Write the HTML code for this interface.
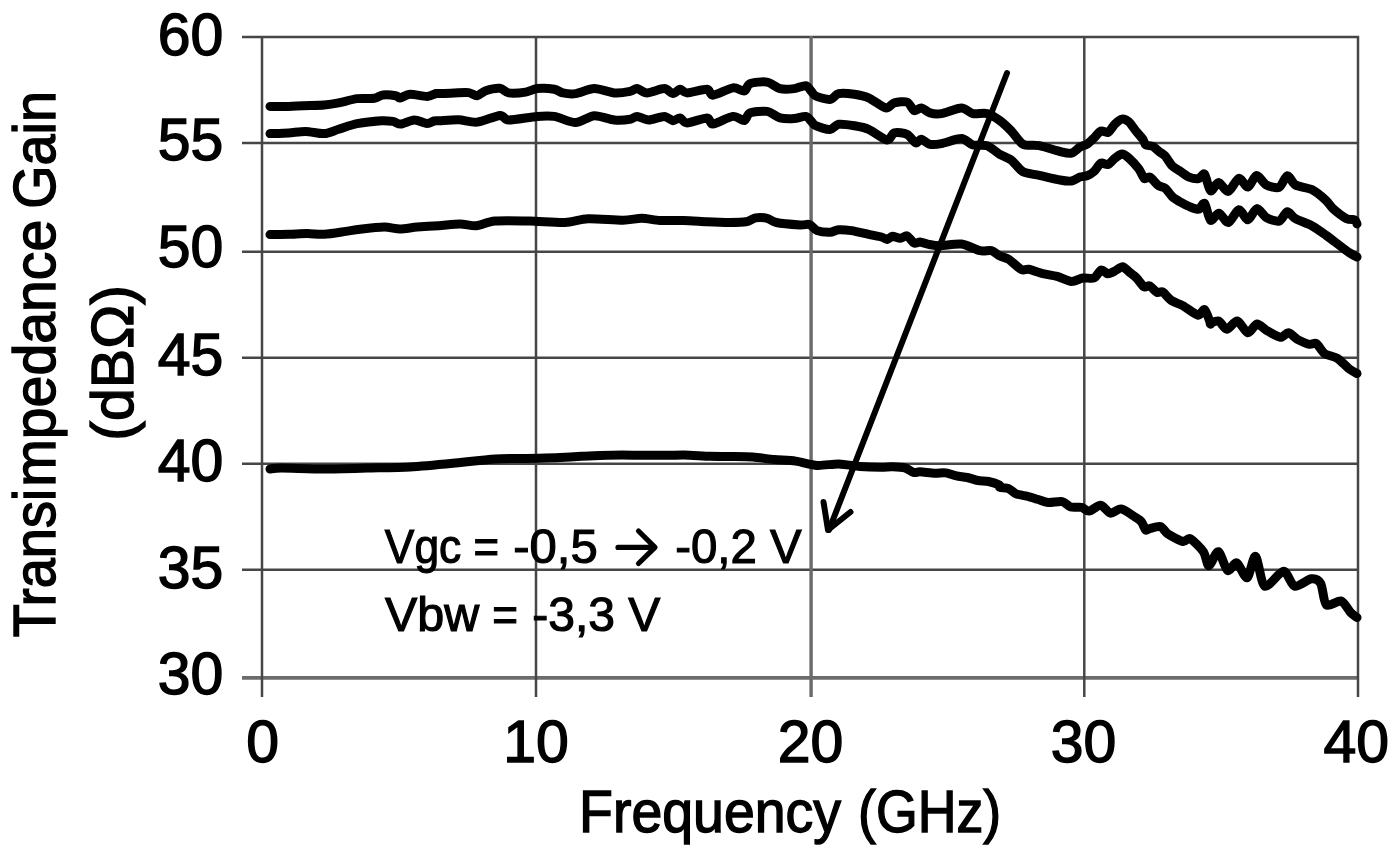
<!DOCTYPE html>
<html><head><meta charset="utf-8"><style>
html,body{margin:0;padding:0;background:#fff;width:1400px;height:859px;overflow:hidden}
svg{display:block;will-change:transform}
text{font-family:"Liberation Sans",sans-serif;fill:#000;stroke:#000}
</style></head><body>
<svg width="1400" height="859" viewBox="0 0 1400 859">
<rect width="1400" height="859" fill="#fff"/>
<g>
<g stroke="#464646" stroke-width="2.5" fill="none">
<line x1="242" y1="36.9" x2="1359" y2="36.9"/><line x1="242" y1="142.9" x2="1359" y2="142.9"/><line x1="242" y1="251.7" x2="1359" y2="251.7"/><line x1="242" y1="357.7" x2="1359" y2="357.7"/><line x1="242" y1="463.8" x2="1359" y2="463.8"/><line x1="242" y1="569.8" x2="1359" y2="569.8"/><line x1="242" y1="677.9" x2="1359" y2="677.9" stroke="#6c6c6c" stroke-width="3.8"/><line x1="262" y1="35.9" x2="262" y2="697"/><line x1="536" y1="35.9" x2="536" y2="697"/><line x1="811.1" y1="35.9" x2="811.1" y2="697" stroke="#6a6a6a" stroke-width="3.4"/><line x1="1084.3" y1="35.9" x2="1084.3" y2="697"/><line x1="1358" y1="35.9" x2="1358" y2="697"/>
</g>
<g>
<text id="y60" transform="translate(157.64,54.92) scale(1.0030,1)" font-size="58.77" stroke-width="1.41">60</text><text id="y55" transform="translate(157.64,160.04) scale(1.0030,1)" font-size="58.77" stroke-width="1.41">55</text><text id="y50" transform="translate(157.64,266.62) scale(1.0030,1)" font-size="58.77" stroke-width="1.41">50</text><text id="y45" transform="translate(157.64,375.22) scale(1.0030,1)" font-size="58.77" stroke-width="1.41">45</text><text id="y40" transform="translate(157.64,480.52) scale(1.0030,1)" font-size="58.77" stroke-width="1.41">40</text><text id="y35" transform="translate(157.64,588.22) scale(1.0030,1)" font-size="58.77" stroke-width="1.41">35</text><text id="y30" transform="translate(157.64,693.52) scale(1.0030,1)" font-size="58.77" stroke-width="1.41">30</text>
<text id="x0" transform="translate(246.30,762.22) scale(1.0030,1)" font-size="58.77" stroke-width="1.41">0</text><text id="x10" transform="translate(503.30,762.22) scale(1.0030,1)" font-size="58.77" stroke-width="1.41">10</text><text id="x20" transform="translate(777.69,762.22) scale(1.0030,1)" font-size="58.77" stroke-width="1.41">20</text><text id="x30" transform="translate(1050.79,762.22) scale(1.0030,1)" font-size="58.77" stroke-width="1.41">30</text><text id="x40" transform="translate(1323.38,762.22) scale(1.0030,1)" font-size="58.77" stroke-width="1.41">40</text>
<text id="xt1" transform="translate(579.12,832.40) scale(0.9469,1)" font-size="58.57" stroke-width="1.41">Frequency</text><text id="xt2" transform="translate(858.02,832.40) scale(0.9168,1)" font-size="58.57" stroke-width="1.41">(GHz)</text>
<text id="yt1a" transform="translate(55.00,637.24) rotate(-90) scale(0.9011,1)" font-size="60.00" stroke-width="1.44">Transi</text><text id="yt1b" transform="translate(55.00,486.86) rotate(-90) scale(0.9532,1)" font-size="60.00" stroke-width="1.44">mpedance</text><text id="yt1c" transform="translate(55.00,208.83) rotate(-90) scale(0.9290,1)" font-size="60.00" stroke-width="1.44">Gain</text>
<text id="yt2" transform="translate(133.17,440.65) rotate(-90) scale(1.0117,1)" font-size="58.33" stroke-width="1.40">(dB&#937;)</text>
<text id="a1a" transform="translate(384.84,562.60) scale(0.9214,1)" font-size="48.14" stroke-width="1.16">Vgc</text><text id="a1b" transform="translate(473.55,562.60) scale(0.9082,1)" font-size="48.14" stroke-width="1.16">=</text><text id="a1c" transform="translate(513.23,562.60) scale(1.0186,1)" font-size="48.14" stroke-width="1.16">-0,5</text>
<text id="a1d" transform="translate(675.18,562.80) scale(0.9853,1)" font-size="48.14" stroke-width="1.16">-0,2 V</text>
<text id="a2a" transform="translate(385.08,631.10) scale(1.0059,1)" font-size="48.14" stroke-width="1.16">Vbw</text><text id="a2b" transform="translate(492.14,631.10) scale(0.9164,1)" font-size="48.14" stroke-width="1.16">=</text><text id="a2c" transform="translate(532.16,631.10) scale(0.9986,1)" font-size="48.14" stroke-width="1.16">-3,3 V</text>
</g>
<path id="aa" d="M618,547.4 L653,547.4 M638.5,531 L655,547.4 L638.5,563.5" stroke="#000" stroke-width="5.2" fill="none" stroke-linecap="round" stroke-linejoin="round"/>
<g stroke="#000" stroke-width="9" fill="none" stroke-linejoin="round" stroke-linecap="round">
<path d="M270.0,106.4 C272.5,106.4 284.2,106.5 288.6,106.4 C293.0,106.3 298.1,105.9 302.9,105.7 C307.7,105.5 319.5,105.4 324.3,105.0 C329.1,104.6 334.2,103.8 338.6,102.9 C343.0,102.0 352.3,99.2 357.1,98.6 C361.9,98.0 370.9,98.8 374.3,98.3 C377.7,97.8 380.0,95.3 382.9,95.0 C385.8,94.7 393.4,95.3 395.7,95.7 C398.0,96.1 398.1,98.2 400.0,98.0 C401.9,97.8 406.4,94.5 410.0,94.3 C413.6,94.1 423.6,96.5 427.1,96.4 C430.6,96.3 434.3,93.9 436.0,93.5 C437.7,93.1 437.6,93.7 440.0,93.6 C442.4,93.5 450.5,93.0 454.3,92.9 C458.1,92.8 465.6,92.2 468.6,92.6 C471.6,93.0 474.8,96.0 477.1,95.7 C479.4,95.4 482.6,91.7 485.7,90.7 C488.8,89.7 496.9,88.0 500.0,88.3 C503.1,88.6 505.2,92.4 508.6,92.9 C512.0,93.4 521.9,92.7 525.7,92.1 C529.5,91.5 533.3,89.0 537.1,88.6 C540.9,88.2 550.9,88.7 554.3,89.3 C557.7,89.9 560.0,92.3 562.9,92.9 C565.8,93.5 571.5,94.2 575.7,93.6 C579.9,93.0 589.2,88.7 594.3,88.6 C599.4,88.5 609.5,92.5 614.3,92.9 C619.1,93.3 627.0,92.0 630.0,91.4 C633.0,90.8 634.8,88.4 637.1,88.6 C639.4,88.8 643.5,92.9 647.1,92.9 C650.7,92.9 660.9,88.5 664.3,88.6 C667.7,88.7 670.8,93.5 672.9,93.6 C675.0,93.7 678.1,89.4 680.0,89.3 C681.9,89.2 683.5,92.9 687.1,92.9 C690.7,92.9 703.7,89.0 707.1,89.3 C710.5,89.6 709.5,95.4 712.9,95.2 C716.3,95.0 728.7,88.5 732.9,87.9 C737.1,87.3 742.0,91.6 744.3,91.0 C746.6,90.4 747.0,84.8 750.0,83.6 C753.0,82.4 763.1,81.4 767.1,82.1 C771.1,82.8 776.4,87.7 780.0,88.6 C783.6,89.5 790.9,89.0 794.3,88.6 C797.7,88.2 803.4,85.3 805.7,85.7 C808.0,86.1 810.1,90.0 811.4,91.4 C812.7,92.8 813.2,94.9 815.7,96.0 C818.2,97.1 826.9,99.8 830.0,99.5 C833.1,99.2 835.4,94.3 838.6,93.6 C841.8,92.9 850.3,93.7 854.3,94.3 C858.3,94.9 864.4,96.1 868.6,97.9 C872.8,99.7 882.3,107.2 885.7,107.9 C889.1,108.6 891.4,103.7 894.3,102.9 C897.2,102.1 904.4,101.1 907.1,102.1 C909.8,103.1 912.4,109.9 914.3,110.7 C916.2,111.5 919.3,107.6 921.4,107.9 C923.5,108.2 927.3,112.1 930.0,112.9 C932.7,113.7 937.2,114.3 941.4,113.6 C945.6,112.9 957.2,107.9 961.4,107.9 C965.6,107.9 969.5,112.8 972.9,113.6 C976.3,114.4 983.5,112.7 987.1,113.6 C990.7,114.5 996.5,118.2 999.7,120.5 C1002.9,122.8 1008.2,127.8 1011.3,131.0 C1014.4,134.2 1019.3,142.3 1023.0,144.3 C1026.7,146.3 1034.4,144.7 1039.3,145.7 C1044.2,146.7 1055.7,150.5 1060.0,151.5 C1064.3,152.5 1068.9,153.7 1071.6,153.1 C1074.3,152.5 1077.9,148.2 1080.0,147.0 C1082.1,145.8 1085.1,145.4 1087.0,144.2 C1088.9,143.0 1092.1,139.7 1094.0,137.9 C1095.9,136.1 1099.1,131.7 1101.0,131.0 C1102.9,130.3 1106.1,133.3 1108.0,132.4 C1109.9,131.5 1113.1,125.8 1115.0,124.0 C1116.9,122.2 1120.0,119.4 1121.9,119.1 C1123.8,118.8 1127.0,120.3 1128.9,121.9 C1130.8,123.5 1134.0,128.7 1135.9,131.0 C1137.8,133.3 1141.6,137.4 1142.9,139.3 C1144.2,141.2 1144.4,144.0 1145.7,144.9 C1147.0,145.8 1150.7,145.4 1152.6,146.3 C1154.5,147.2 1157.9,150.6 1159.6,151.9 C1161.3,153.2 1163.5,154.2 1165.2,156.1 C1166.9,158.0 1170.1,163.8 1172.2,165.9 C1174.3,168.0 1178.4,170.0 1180.6,171.5 C1182.8,173.0 1186.6,176.2 1189.0,177.1 C1191.4,178.0 1196.6,178.9 1198.7,178.5 C1200.8,178.1 1203.0,172.7 1204.6,174.3 C1206.2,175.9 1208.6,189.7 1210.5,190.8 C1212.4,191.9 1216.2,182.4 1218.6,182.5 C1221.0,182.6 1225.6,192.0 1228.3,191.4 C1231.0,190.8 1236.2,178.9 1238.8,178.3 C1241.4,177.7 1245.6,187.5 1248.0,187.1 C1250.4,186.7 1254.0,175.8 1256.5,175.5 C1259.0,175.2 1263.4,183.4 1266.4,185.0 C1269.4,186.6 1276.4,188.5 1279.2,187.3 C1282.0,186.1 1285.1,176.0 1287.3,175.7 C1289.5,175.4 1292.2,183.1 1295.5,185.0 C1298.8,186.9 1307.8,187.6 1311.8,189.6 C1315.8,191.6 1322.9,197.6 1325.7,200.1 C1328.5,202.6 1329.9,205.8 1332.7,208.3 C1335.5,210.8 1343.8,217.2 1346.7,218.7 C1349.6,220.2 1353.4,219.2 1354.8,219.9 C1356.2,220.6 1356.7,223.5 1357.0,224.0"/>
<path d="M270.0,133.6 C272.5,133.5 283.8,133.2 288.6,132.9 C293.4,132.6 300.9,131.3 305.7,131.4 C310.5,131.5 319.9,133.9 324.3,133.6 C328.7,133.3 334.2,130.6 338.6,129.3 C343.0,128.0 351.4,124.7 357.1,123.6 C362.8,122.5 376.6,121.0 381.4,120.7 C386.2,120.4 390.3,121.0 392.9,121.4 C395.5,121.8 397.8,124.2 400.7,124.0 C403.6,123.8 410.8,120.1 414.3,120.0 C417.8,119.9 424.5,123.5 427.1,123.6 C429.7,123.7 432.3,121.4 434.0,121.0 C435.7,120.6 436.7,120.9 440.0,120.7 C443.3,120.5 453.7,119.5 458.6,119.7 C463.5,119.9 471.6,122.7 477.1,122.1 C482.6,121.5 495.8,115.7 500.0,115.4 C504.2,115.1 503.7,119.9 508.6,120.0 C513.5,120.1 531.0,116.9 537.1,116.4 C543.2,115.9 549.2,115.6 554.3,116.4 C559.4,117.2 570.4,122.7 575.7,122.6 C581.0,122.5 589.2,116.0 594.3,115.7 C599.4,115.4 609.5,119.5 614.3,120.0 C619.1,120.5 627.0,119.8 630.0,119.3 C633.0,118.8 634.6,116.3 637.1,116.4 C639.6,116.5 645.0,120.0 648.6,120.0 C652.2,120.0 661.1,116.3 664.3,116.4 C667.5,116.5 670.8,120.5 672.9,120.7 C675.0,120.9 678.1,117.6 680.0,117.9 C681.9,118.2 683.5,122.9 687.1,122.9 C690.7,122.9 703.7,117.8 707.1,117.9 C710.5,118.0 709.5,124.2 712.9,124.0 C716.3,123.8 728.7,116.9 732.9,116.4 C737.1,115.9 742.0,121.0 744.3,120.5 C746.6,120.0 747.0,114.1 750.0,112.9 C753.0,111.7 763.1,110.7 767.1,111.4 C771.1,112.1 776.4,116.9 780.0,117.9 C783.6,118.9 790.9,118.8 794.3,118.6 C797.7,118.4 803.4,116.0 805.7,116.4 C808.0,116.8 810.1,120.2 811.4,121.4 C812.7,122.6 813.2,124.6 815.7,125.7 C818.2,126.8 826.9,129.7 830.0,129.5 C833.1,129.3 835.4,124.8 838.6,124.3 C841.8,123.8 850.3,125.0 854.3,125.7 C858.3,126.4 864.2,127.4 868.6,129.3 C873.0,131.2 883.7,139.5 887.1,140.0 C890.5,140.5 891.6,133.7 894.3,132.9 C897.0,132.1 904.2,133.0 907.1,134.3 C910.0,135.6 913.8,142.2 915.7,142.9 C917.6,143.6 919.5,139.1 921.4,139.3 C923.3,139.5 927.3,143.7 930.0,144.3 C932.7,144.9 937.2,144.4 941.4,143.6 C945.6,142.8 957.2,138.4 961.4,138.6 C965.6,138.8 969.5,144.1 972.9,145.0 C976.3,145.9 983.5,144.5 987.1,145.7 C990.7,146.9 996.5,152.4 999.7,154.3 C1002.9,156.2 1008.2,157.8 1011.3,160.1 C1014.4,162.4 1019.3,169.8 1023.0,171.8 C1026.7,173.8 1034.4,174.2 1039.3,175.3 C1044.2,176.4 1055.7,179.2 1060.0,180.0 C1064.3,180.8 1068.9,181.4 1071.6,181.0 C1074.3,180.6 1077.9,177.8 1080.0,177.1 C1082.1,176.4 1085.1,176.4 1087.0,175.7 C1088.9,175.0 1092.1,173.2 1094.0,171.5 C1095.9,169.8 1099.1,164.0 1101.0,163.1 C1102.9,162.2 1106.1,165.2 1108.0,164.5 C1109.9,163.8 1113.1,159.6 1115.0,158.2 C1116.9,156.8 1120.0,154.0 1121.9,154.0 C1123.8,154.0 1126.7,156.2 1128.9,158.2 C1131.1,160.2 1136.6,166.0 1138.7,168.7 C1140.8,171.4 1142.8,177.4 1144.3,178.5 C1145.8,179.6 1148.0,176.2 1149.9,177.1 C1151.8,178.0 1156.2,183.9 1158.2,185.4 C1160.2,186.9 1163.3,186.7 1165.2,188.2 C1167.1,189.7 1170.1,194.7 1172.2,196.6 C1174.3,198.5 1178.4,200.9 1180.6,202.2 C1182.8,203.5 1186.6,205.5 1189.0,206.4 C1191.4,207.3 1196.6,209.6 1198.7,209.2 C1200.8,208.8 1203.0,201.9 1204.6,203.4 C1206.2,204.9 1208.6,219.0 1210.5,220.3 C1212.4,221.6 1216.6,213.0 1219.0,213.3 C1221.4,213.6 1225.7,223.1 1228.3,222.6 C1230.9,222.1 1236.2,210.2 1238.8,209.8 C1241.4,209.4 1245.6,219.9 1248.0,219.7 C1250.4,219.5 1254.3,208.9 1256.8,208.6 C1259.3,208.3 1263.4,215.9 1266.4,217.6 C1269.4,219.3 1276.4,221.9 1279.2,221.1 C1282.0,220.3 1285.1,212.1 1287.3,211.8 C1289.5,211.5 1292.2,216.8 1295.5,218.7 C1298.8,220.6 1307.8,223.5 1311.8,225.7 C1315.8,227.9 1322.6,232.8 1325.7,235.0 C1328.8,237.2 1331.9,239.7 1335.0,242.0 C1338.1,244.3 1346.1,250.5 1349.0,252.5 C1351.9,254.5 1355.9,256.4 1357.0,257.0"/>
<path d="M270.0,234.6 C272.5,234.6 283.7,234.4 288.6,234.3 C293.5,234.2 302.2,233.6 307.0,233.6 C311.8,233.6 319.1,234.6 324.3,234.3 C329.5,234.0 340.9,232.1 345.7,231.4 C350.5,230.7 354.9,229.9 360.0,229.3 C365.1,228.7 379.0,227.1 384.3,227.1 C389.6,227.1 395.6,229.0 400.0,229.0 C404.4,229.0 412.0,227.5 417.1,227.1 C422.2,226.7 432.9,226.1 438.6,225.7 C444.3,225.3 455.0,224.0 460.0,224.0 C465.0,224.0 471.6,226.2 476.3,225.8 C481.0,225.4 487.9,221.6 495.0,221.0 C502.1,220.4 520.5,220.8 529.8,221.0 C539.1,221.2 557.0,222.8 564.8,222.5 C572.6,222.2 580.2,219.1 588.0,218.8 C595.8,218.5 615.9,220.3 623.0,220.2 C630.1,220.1 636.7,218.3 641.6,218.3 C646.5,218.3 654.4,220.2 660.0,220.5 C665.6,220.8 677.1,220.4 683.3,220.6 C689.5,220.8 700.4,221.5 706.6,221.8 C712.8,222.1 724.5,222.5 729.8,222.5 C735.1,222.5 742.6,222.4 746.0,221.8 C749.4,221.2 752.7,218.4 755.5,217.9 C758.3,217.4 764.3,217.7 767.1,218.3 C769.9,218.9 772.0,221.6 776.4,222.5 C780.8,223.4 795.6,224.7 800.0,225.0 C804.4,225.3 807.1,223.8 809.4,224.5 C811.7,225.2 814.4,229.6 817.1,230.6 C819.8,231.6 827.1,232.4 830.0,232.3 C832.9,232.2 835.7,229.9 838.6,229.7 C841.5,229.5 847.4,230.0 851.4,230.6 C855.4,231.2 864.6,233.5 868.6,234.4 C872.6,235.3 878.9,236.3 881.4,237.0 C883.9,237.7 885.9,239.5 887.4,239.4 C888.9,239.3 890.8,236.4 892.5,236.3 C894.2,236.2 898.4,238.4 900.3,238.3 C902.2,238.2 905.3,235.3 907.1,235.9 C908.9,236.5 912.3,242.2 914.0,243.0 C915.7,243.8 918.1,241.9 920.0,242.1 C921.9,242.3 925.9,243.8 928.6,244.3 C931.3,244.8 935.6,245.7 940.0,245.7 C944.4,245.7 956.1,243.3 961.4,244.0 C966.7,244.7 976.0,249.8 980.0,250.7 C984.0,251.6 988.7,250.0 991.4,250.7 C994.1,251.4 997.7,254.9 1000.0,256.0 C1002.3,257.1 1005.7,257.5 1008.6,259.3 C1011.5,261.1 1018.7,268.2 1021.4,269.5 C1024.1,270.8 1025.7,268.8 1028.6,269.3 C1031.5,269.8 1039.1,272.7 1042.9,273.6 C1046.7,274.5 1053.3,275.4 1057.1,276.4 C1060.9,277.4 1068.0,281.2 1071.4,281.4 C1074.8,281.6 1079.9,278.5 1082.9,278.0 C1085.9,277.5 1091.6,279.1 1094.0,278.0 C1096.4,276.9 1099.4,270.6 1101.2,270.0 C1103.0,269.4 1106.0,273.6 1107.7,273.8 C1109.4,274.0 1112.2,272.3 1114.2,271.4 C1116.2,270.5 1120.6,266.7 1122.6,266.8 C1124.6,266.9 1127.2,270.4 1129.1,271.9 C1131.0,273.4 1134.6,276.0 1136.6,278.0 C1138.6,280.0 1142.3,285.7 1144.0,286.8 C1145.7,287.9 1147.9,285.2 1149.6,285.9 C1151.3,286.6 1155.4,291.6 1157.1,292.4 C1158.8,293.2 1160.8,290.8 1162.7,291.9 C1164.6,293.0 1168.4,298.4 1171.1,300.3 C1173.8,302.2 1179.6,303.9 1183.2,305.9 C1186.8,307.9 1195.2,314.7 1198.1,315.2 C1201.0,315.7 1202.9,308.5 1204.6,309.6 C1206.3,310.7 1209.7,321.5 1210.5,323.3 C1211.3,325.1 1209.4,323.6 1210.5,323.3 C1211.6,323.0 1216.4,320.2 1218.6,321.0 C1220.8,321.8 1224.3,329.2 1226.8,329.2 C1229.3,329.2 1234.5,320.5 1237.3,321.0 C1240.1,321.5 1245.1,332.3 1247.7,332.7 C1250.3,333.1 1254.5,324.3 1257.0,324.0 C1259.5,323.7 1263.3,328.5 1266.4,330.3 C1269.5,332.1 1277.4,337.0 1280.3,337.3 C1283.2,337.6 1286.2,332.4 1288.5,332.7 C1290.8,333.0 1295.0,338.1 1297.8,339.6 C1300.6,341.1 1306.9,343.8 1309.4,344.3 C1311.9,344.8 1314.4,342.4 1316.4,343.6 C1318.4,344.8 1321.8,351.6 1324.6,353.6 C1327.4,355.6 1334.1,356.3 1337.4,358.3 C1340.7,360.3 1346.4,366.7 1349.0,368.7 C1351.6,370.7 1355.9,372.9 1357.0,373.5"/>
<path d="M270.0,469.0 C271.5,468.9 274.2,468.1 281.4,468.1 C288.6,468.1 312.9,469.0 324.3,469.0 C335.7,469.0 355.7,468.4 367.1,468.1 C378.5,467.8 398.6,467.6 410.0,466.9 C421.4,466.2 441.5,464.3 452.9,463.2 C464.3,462.1 484.3,459.6 495.7,458.9 C507.1,458.2 530.0,458.5 538.6,458.3 C547.2,458.1 554.3,457.9 560.0,457.6 C565.7,457.3 576.1,456.6 581.4,456.3 C586.7,456.0 594.6,455.7 600.0,455.5 C605.4,455.3 616.1,455.0 622.1,455.0 C628.1,455.0 639.0,455.3 645.0,455.3 C651.0,455.3 661.9,455.3 667.1,455.3 C672.3,455.3 678.6,454.9 684.3,455.0 C690.0,455.1 703.9,456.1 710.0,456.3 C716.1,456.5 724.3,456.4 730.0,456.5 C735.7,456.6 746.9,456.6 752.8,457.0 C758.7,457.4 768.6,459.1 774.3,459.6 C780.0,460.1 790.0,460.3 795.7,461.1 C801.4,461.9 811.4,465.0 817.1,465.4 C822.8,465.8 832.9,463.8 838.6,463.9 C844.3,464.0 854.3,466.0 860.0,466.5 C865.7,467.0 877.1,467.3 881.4,467.3 C885.7,467.3 889.0,466.7 892.1,466.8 C895.2,466.9 902.1,467.1 905.0,467.9 C907.9,468.7 911.6,472.0 913.6,472.5 C915.6,473.0 917.1,471.7 920.0,471.8 C922.9,471.9 931.6,473.1 935.0,473.2 C938.4,473.3 942.8,472.5 945.7,472.9 C948.6,473.3 953.5,475.3 956.4,475.9 C959.3,476.5 964.3,476.9 967.2,477.5 C970.1,478.1 975.0,480.0 977.9,480.5 C980.8,481.0 985.7,480.9 988.6,481.5 C991.5,482.1 997.8,484.2 999.3,485.0 C1000.8,485.8 998.8,486.8 1000.0,487.3 C1001.2,487.8 1006.5,487.7 1008.6,488.6 C1010.7,489.5 1013.7,492.9 1016.1,493.9 C1018.5,494.9 1023.9,495.4 1026.8,496.1 C1029.7,496.8 1034.6,498.4 1037.5,499.3 C1040.4,500.2 1044.9,502.2 1048.2,502.5 C1051.5,502.8 1059.2,501.0 1062.2,501.6 C1065.2,502.2 1068.1,506.2 1070.7,507.0 C1073.3,507.8 1079.1,506.8 1081.5,507.3 C1083.9,507.8 1086.4,511.4 1089.0,511.1 C1091.6,510.8 1097.8,504.9 1100.7,505.2 C1103.6,505.5 1107.7,512.7 1110.4,513.2 C1113.1,513.7 1117.8,508.4 1121.1,508.9 C1124.4,509.4 1132.3,515.3 1135.0,517.0 C1137.7,518.7 1140.1,520.1 1141.5,521.8 C1142.9,523.5 1144.6,529.1 1145.7,530.0 C1146.8,530.9 1148.0,529.0 1150.0,528.5 C1152.0,528.0 1158.1,525.9 1160.5,526.6 C1162.9,527.3 1165.0,532.0 1168.0,534.0 C1171.0,536.0 1179.9,540.9 1182.9,541.5 C1185.9,542.1 1187.6,537.3 1190.3,538.7 C1193.0,540.1 1200.9,548.1 1203.4,551.7 C1205.9,555.3 1206.9,565.7 1208.9,565.7 C1210.9,565.7 1215.8,551.1 1218.3,551.7 C1220.8,552.3 1225.1,568.9 1227.6,570.4 C1230.1,571.9 1234.3,561.9 1236.9,562.9 C1239.5,563.9 1244.6,578.7 1247.1,577.8 C1249.6,576.9 1253.1,555.3 1255.5,556.4 C1257.9,557.5 1261.1,584.2 1264.8,586.2 C1268.5,588.2 1279.5,571.3 1283.5,571.3 C1287.5,571.3 1290.9,585.2 1294.6,586.2 C1298.3,587.2 1307.9,579.2 1311.4,578.8 C1314.9,578.4 1318.7,579.9 1320.7,583.4 C1322.7,586.9 1323.6,602.4 1326.3,604.8 C1329.0,607.2 1338.0,600.1 1341.2,601.1 C1344.4,602.1 1348.4,610.1 1350.5,612.3 C1352.6,614.5 1356.1,616.8 1357.0,617.5"/>
</g>
<g stroke="#000" stroke-width="6" fill="none" stroke-linecap="round" stroke-linejoin="round">
<path d="M1007,73 L829,530"/>
<path d="M823.5,502 L828,530 L850.5,512"/>
</g>
</g>
</svg>
</body></html>
